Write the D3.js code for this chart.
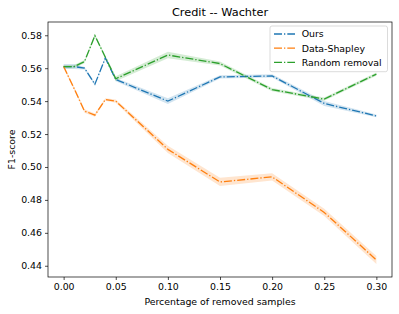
<!DOCTYPE html>
<html lang="en">
<head>
<meta charset="UTF-8">
<title>Credit -- Wachter</title>
<script src="https://d3js.org/d3.v7.min.js"></script>
<style>
    body { margin: 0; background: #fff; }
    svg { font-family: "DejaVu Sans", sans-serif; }
</style>
</head>
<body>
<svg id="chart" width="399" height="314"></svg>
<script>
    // removal fractions (x values)
    const removed = [0, 0.01, 0.02, 0.03, 0.04, 0.05, 0.10, 0.15, 0.20, 0.25, 0.30];

    // mean F1 per method
    const ours = [0.561, 0.561, 0.560, 0.5503, 0.5662, 0.5531, 0.540, 0.5547, 0.5553, 0.5386, 0.531];
    const dataShapley = [0.561, 0.5477, 0.534, 0.5315, 0.541, 0.540, 0.5107, 0.4909, 0.494, 0.4724, 0.4435];
    const randomRemoval = [0.561, 0.561, 0.564, 0.5798, 0.5667, 0.5536, 0.568, 0.5628, 0.547, 0.5412, 0.5564];

    // half width of the shaded band
    const oursErr = [0.0015, 0.0015, 0.0008, 0.0008, 0.0008, 0.001, 0.0018, 0.001, 0.001, 0.0015, 0.0008];
    const shapleyErr = [0.001, 0.001, 0.001, 0.001, 0.0008, 0.001, 0.0022, 0.0025, 0.0022, 0.0022, 0.0025];
    const randomErr = [0.001, 0.001, 0.001, 0.001, 0.001, 0.0015, 0.002, 0.0012, 0.001, 0.001, 0.001];

    const xTicks = [0.00, 0.05, 0.10, 0.15, 0.20, 0.25, 0.30];
    const yTicks = [0.44, 0.46, 0.48, 0.50, 0.52, 0.54, 0.56, 0.58];

    const series = [
        { name: "Ours", values: ours, err: oursErr, color: "#1f77b4" },
        { name: "Data-Shapley", values: dataShapley, err: shapleyErr, color: "#ff7f0e" },
        { name: "Random removal", values: randomRemoval, err: randomErr, color: "#2ca02c" }
    ];

    const svg = d3.select("#chart");
    const margin = { top: 22, right: 7, bottom: 37, left: 48 };
    const width = +svg.attr("width");
    const height = +svg.attr("height");
    const fontSize = "9.4px";

    const x = d3.scaleLinear()
        .domain([-0.015, 0.315])
        .range([margin.left, width - margin.right]);

    const y = d3.scaleLinear()
        .domain([0.43317, 0.58806])
        .range([height - margin.bottom, margin.top]);

    // shaded bands first
    series.forEach(s => {
        svg.append("path")
            .datum(removed)
            .attr("fill", s.color)
            .attr("fill-opacity", 0.2)
            .attr("d", d3.area()
                .x(d => x(d))
                .y0((d, i) => y(s.values[i] - s.err[i]))
                .y1((d, i) => y(s.values[i] + s.err[i]))
            );
    });

    // dash-dot lines
    series.forEach(s => {
        svg.append("path")
            .datum(removed)
            .attr("fill", "none")
            .attr("stroke", s.color)
            .attr("stroke-width", 1.3)
            .attr("stroke-dasharray", "8,2,1.3,2")
            .attr("d", d3.line()
                .x(d => x(d))
                .y((d, i) => y(s.values[i]))
            );
    });

    // axes
    svg.append("g")
        .attr("transform", `translate(0,${height - margin.bottom})`)
        .call(d3.axisBottom(x).tickValues(xTicks).tickFormat(d3.format(".2f")).tickSize(3).tickPadding(3))
        .call(g => g.select(".domain").remove());

    svg.append("g")
        .attr("transform", `translate(${margin.left},0)`)
        .call(d3.axisLeft(y).tickValues(yTicks).tickFormat(d3.format(".2f")).tickSize(3).tickPadding(3))
        .call(g => g.select(".domain").remove());

    svg.selectAll(".tick text")
        .attr("font-size", fontSize)
        .attr("font-family", "DejaVu Sans")
        .attr("fill", "#000");
    svg.selectAll(".tick line").attr("stroke", "#000").attr("stroke-width", 0.7);

    // frame
    svg.append("rect")
        .attr("x", margin.left)
        .attr("y", margin.top)
        .attr("width", width - margin.left - margin.right)
        .attr("height", height - margin.top - margin.bottom)
        .attr("fill", "none")
        .attr("stroke", "#000")
        .attr("stroke-width", 0.7);

    // title and axis labels
    svg.append("text")
        .attr("x", (margin.left + width - margin.right) / 2)
        .attr("y", 16)
        .attr("text-anchor", "middle")
        .attr("font-size", "11.3px")
        .text("Credit -- Wachter");

    svg.append("text")
        .attr("x", (margin.left + width - margin.right) / 2)
        .attr("y", 305)
        .attr("text-anchor", "middle")
        .attr("font-size", fontSize)
        .text("Percentage of removed samples");

    svg.append("text")
        .attr("transform", "rotate(-90)")
        .attr("x", -(margin.top + height - margin.bottom) / 2)
        .attr("y", 15)
        .attr("text-anchor", "middle")
        .attr("font-size", fontSize)
        .text("F1-score");

    // legend
    const legend = svg.append("g").attr("transform", "translate(270,26)");
    legend.append("rect")
        .attr("width", 117.5)
        .attr("height", 45.7)
        .attr("rx", 2)
        .attr("fill", "#fff")
        .attr("fill-opacity", 0.8)
        .attr("stroke", "#ccc")
        .attr("stroke-width", 0.7);

    series.forEach((s, i) => {
        const row = legend.append("g").attr("transform", `translate(0,${8 + i * 14.2})`);
        row.append("line")
            .attr("x1", 4).attr("x2", 25)
            .attr("stroke", s.color)
            .attr("stroke-width", 1.3)
            .attr("stroke-dasharray", "8,2,1.3,2");
        row.append("text")
            .attr("x", 31.7)
            .attr("y", 3.4)
            .attr("font-size", fontSize)
            .text(s.name);
    });
</script>
</body>
</html>
